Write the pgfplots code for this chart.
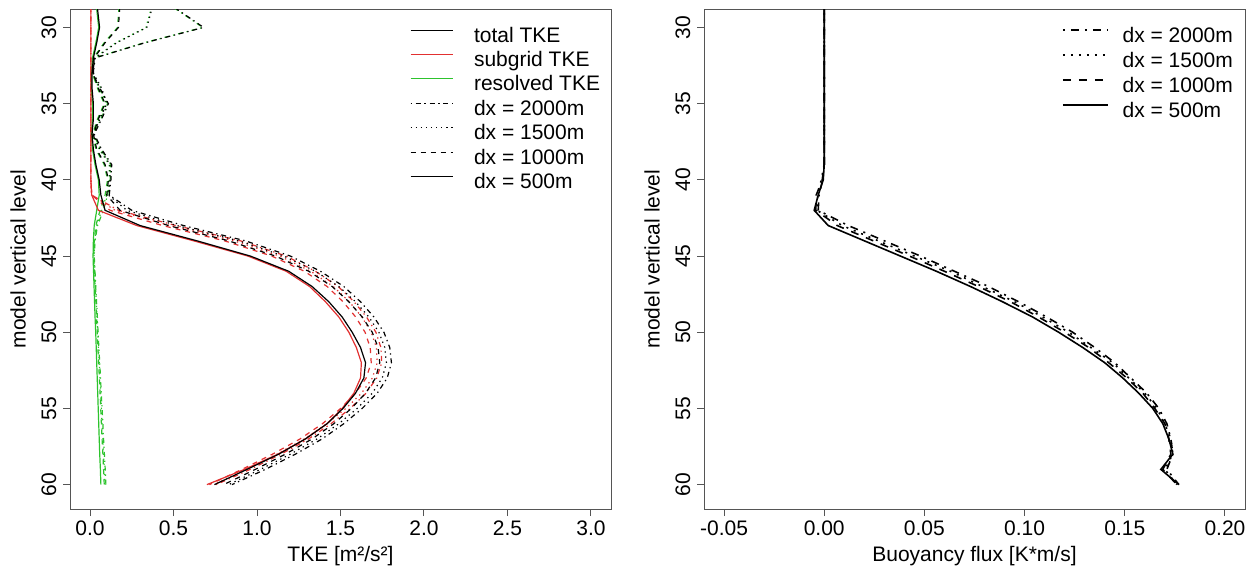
\documentclass[border=0pt]{standalone}
\usepackage{fontspec}
\setmainfont{Liberation Sans}
\usepackage{pgfplots}
\usepackage{pgfplotstable}
\pgfplotsset{compat=1.18}

\definecolor{subred}{RGB}{226,48,48}
\definecolor{resgreen}{RGB}{45,195,45}
\definecolor{boxgrey}{RGB}{85,85,85}

% TKE per model level: t = total, s = subgrid, r = resolved
\pgfplotstableread{
L  t500  s500  r500  t1000 s1000 r1000 t1500 s1500 r1500 t2000 s2000 r2000
28 0.037 0.005 0.032 0.180 0.005 0.175 0.390 0.005 0.385 0.413 0.005 0.408
29 0.047 0.005 0.042 0.176 0.005 0.171 0.365 0.005 0.360 0.547 0.005 0.542
30 0.057 0.005 0.052 0.170 0.005 0.165 0.340 0.005 0.335 0.680 0.005 0.675
31 0.040 0.005 0.035 0.090 0.005 0.085 0.160 0.005 0.155 0.330 0.005 0.325
32 0.020 0.005 0.015 0.025 0.005 0.020 0.030 0.005 0.025 0.030 0.005 0.025
33 0.012 0.005 0.007 0.020 0.005 0.015 0.020 0.005 0.015 0.015 0.005 0.010
34 0.012 0.005 0.007 0.050 0.005 0.045 0.070 0.005 0.065 0.060 0.005 0.055
35 0.020 0.005 0.015 0.090 0.005 0.085 0.100 0.005 0.095 0.110 0.005 0.105
36 0.020 0.005 0.015 0.050 0.005 0.045 0.060 0.005 0.055 0.070 0.005 0.065
37 0.012 0.005 0.007 0.020 0.005 0.015 0.020 0.005 0.015 0.025 0.005 0.020
38 0.020 0.005 0.015 0.040 0.005 0.035 0.060 0.005 0.055 0.070 0.005 0.065
39 0.035 0.005 0.030 0.090 0.005 0.085 0.120 0.005 0.115 0.130 0.005 0.125
40 0.055 0.005 0.050 0.110 0.005 0.105 0.120 0.005 0.115 0.125 0.005 0.120
41 0.065 0.010 0.055 0.100 0.010 0.090 0.110 0.010 0.100 0.115 0.010 0.105
42 0.090 0.050 0.040 0.180 0.120 0.060 0.220 0.150 0.070 0.250 0.170 0.080
43 0.300 0.280 0.025 0.470 0.435 0.035 0.520 0.480 0.040 0.560 0.515 0.045
44 0.640 0.620 0.020 0.830 0.805 0.025 0.890 0.862 0.028 0.930 0.900 0.030
45 0.960 0.945 0.018 1.110 1.088 0.022 1.160 1.136 0.024 1.200 1.175 0.025
46 1.190 1.175 0.021 1.310 1.284 0.026 1.350 1.322 0.028 1.380 1.350 0.030
47 1.330 1.315 0.024 1.450 1.420 0.030 1.490 1.457 0.033 1.520 1.486 0.034
48 1.430 1.410 0.027 1.550 1.515 0.035 1.590 1.553 0.037 1.620 1.581 0.039
49 1.510 1.490 0.030 1.630 1.591 0.039 1.670 1.628 0.042 1.700 1.656 0.044
50 1.570 1.550 0.034 1.690 1.647 0.043 1.730 1.684 0.046 1.760 1.712 0.048
51 1.620 1.595 0.037 1.725 1.678 0.047 1.765 1.715 0.050 1.795 1.742 0.053
52 1.650 1.625 0.040 1.735 1.684 0.051 1.775 1.720 0.055 1.805 1.747 0.058
53 1.640 1.620 0.043 1.710 1.654 0.056 1.750 1.691 0.059 1.780 1.717 0.063
54 1.590 1.580 0.046 1.650 1.590 0.060 1.690 1.626 0.064 1.720 1.653 0.067
55 1.515 1.510 0.049 1.565 1.501 0.064 1.600 1.532 0.068 1.630 1.558 0.072
56 1.420 1.420 0.052 1.460 1.392 0.068 1.490 1.418 0.072 1.520 1.443 0.077
57 1.290 1.290 0.055 1.330 1.258 0.072 1.360 1.283 0.077 1.390 1.309 0.081
58 1.130 1.125 0.058 1.170 1.093 0.077 1.200 1.119 0.081 1.230 1.144 0.086
59 0.940 0.925 0.062 0.990 0.909 0.081 1.020 0.934 0.086 1.050 0.959 0.091
60 0.745 0.700 0.065 0.800 0.715 0.085 0.830 0.740 0.090 0.850 0.755 0.095
}\tke

% buoyancy flux per model level
\pgfplotstableread{
L  b500    b1000   b1500   b2000
28 0.0000  0.0000  0.0000  0.0000
30 0.0000  0.0000  0.0000  0.0000
35 0.0000  0.0000  0.0000  0.0000
39 0.0000  0.0000  0.0000  0.0000
40 -0.0005 -0.0010 -0.0015 -0.0008
41 -0.0030 -0.0040 -0.0032 -0.0026
42 -0.0050 -0.0042 -0.0036 -0.0030
43 0.0020  0.0065  0.0090  0.0120
44 0.0200  0.0245  0.0270  0.0300
45 0.0380  0.0425  0.0450  0.0480
46 0.0560  0.0600  0.0630  0.0650
47 0.0730  0.0770  0.0790  0.0820
48 0.0890  0.0930  0.0950  0.0970
49 0.1040  0.1070  0.1090  0.1110
50 0.1170  0.1200  0.1220  0.1240
51 0.1290  0.1320  0.1330  0.1350
52 0.1400  0.1420  0.1440  0.1450
53 0.1490  0.1510  0.1520  0.1530
54 0.1570  0.1590  0.1600  0.1610
55 0.1640  0.1650  0.1660  0.1670
56 0.1690  0.1700  0.1700  0.1710
57 0.1720  0.1720  0.1730  0.1730
58 0.1740  0.1730  0.1740  0.1740
59 0.1680  0.1690  0.1700  0.1710
60 0.1770  0.1760  0.1760  0.1770
}\bflux

% R line types (lwd 1)
\tikzset{
  rdash/.style={dash pattern=on 2.5pt off 2.5pt},
  rdot/.style={dash pattern=on 0.65pt off 1.9pt},
  rdotdash/.style={dash pattern=on 0.65pt off 1.9pt on 2.5pt off 1.9pt},
  rdashB/.style={dash pattern=on 4pt off 4pt},
  rdotB/.style={dash pattern=on 1pt off 3pt},
  rdotdashB/.style={dash pattern=on 1pt off 3pt on 4pt off 3pt},
  rdashL/.style={dash pattern=on 5.1pt off 5.1pt},
  rdotL/.style={dash pattern=on 1.27pt off 3.8pt},
  rdotdashL/.style={dash pattern=on 1.27pt off 3.8pt on 5.1pt off 3.8pt},
}

\pgfplotsset{
  rpanel/.style={
    scale only axis, width=270.5pt, height=250pt,
    anchor=south west,
    y dir=reverse, ymin=28.79, ymax=61.6, ytick={30,35,...,60},
    axis line style={boxgrey, line width=0.5pt},
    tick style={boxgrey, line width=0.5pt},
    tick align=outside, major tick length=3.5pt, tick pos=left,
    minor tick num=0,
    /pgf/number format/assume math mode=true,
    scaled x ticks=false,
    xticklabel style={anchor=north, inner sep=0pt, text height=7.5pt, text depth=0pt},
    xticklabel shift=2.25pt,
    yticklabel style={rotate=90, anchor=south, inner sep=0pt, text height=7.5pt, text depth=0pt},
    yticklabel shift=3.25pt,
    ylabel={model vertical level},
    ylabel style={at={(axis description cs:-0.0961,0.5)}, anchor=center, rotate=0},
    xlabel style={at={(axis description cs:0.5,-0.094)}, anchor=center},
    legend cell align=left,
    legend style={draw=none, fill=none, inner sep=0pt, outer sep=0pt,
      anchor=north west, column sep=0pt,
      nodes={inner sep=0pt, text height=7.5pt, text depth=2.5pt}},
  },
}

\begin{document}
\fontsize{10.5}{12.6}\selectfont
\begin{tikzpicture}
\useasboundingbox (0,0) rectangle (625pt,285pt);

% ---- left panel: TKE ----
\begin{axis}[rpanel, at={(35pt,30.5pt)},
  xmin=-0.12, xmax=3.12, xtick={0,0.5,...,3},
  xticklabel style={/pgf/number format/fixed, /pgf/number format/fixed zerofill, /pgf/number format/precision=1},
  xlabel={TKE [m²/s²]},
  legend style={at={(axis description cs:0.6285,0.964)}, row sep=2.2pt},
  legend image code/.code={\draw[#1] (0pt,3.5pt) -- (21pt,3.5pt); \path (31.5pt,3.5pt);},
]
\addlegendimage{black, line width=0.5pt}
\addlegendentry{total TKE}
\addlegendimage{subred, line width=0.5pt}
\addlegendentry{subgrid TKE}
\addlegendimage{resgreen, line width=0.5pt}
\addlegendentry{resolved TKE}
\addlegendimage{black, line width=0.5pt, rdotdash}
\addlegendentry{dx = 2000m}
\addlegendimage{black, line width=0.5pt, rdot}
\addlegendentry{dx = 1500m}
\addlegendimage{black, line width=0.5pt, rdash}
\addlegendentry{dx = 1000m}
\addlegendimage{black, line width=0.5pt}
\addlegendentry{dx = 500m}

% resolved
\addplot[forget plot, resgreen, line width=0.6pt, rdotdash] table[x=r2000, y=L] {\tke};
\addplot[forget plot, resgreen, line width=0.6pt, rdot] table[x=r1500, y=L] {\tke};
\addplot[forget plot, resgreen, line width=0.6pt, rdash] table[x=r1000, y=L] {\tke};
\addplot[forget plot, resgreen, line width=0.6pt] table[x=r500, y=L] {\tke};
% subgrid
\addplot[forget plot, subred, line width=0.6pt, rdotdash] table[x=s2000, y=L] {\tke};
\addplot[forget plot, subred, line width=0.6pt, rdot] table[x=s1500, y=L] {\tke};
\addplot[forget plot, subred, line width=0.6pt, rdash] table[x=s1000, y=L] {\tke};
\addplot[forget plot, subred, line width=0.6pt] table[x=s500, y=L] {\tke};
% total
\addplot[forget plot, black, line width=0.6pt, rdotdash] table[x=t2000, y=L] {\tke};
\addplot[forget plot, black, line width=0.6pt, rdot] table[x=t1500, y=L] {\tke};
\addplot[forget plot, black, line width=0.6pt, rdash] table[x=t1000, y=L] {\tke};
\addplot[forget plot, black, line width=0.6pt] table[x=t500, y=L] {\tke};
\end{axis}

% ---- right panel: buoyancy flux ----
\begin{axis}[rpanel, at={(352pt,30.5pt)},
  xmin=-0.06, xmax=0.21, xtick={-0.05,0,0.05,0.1,0.15,0.2},
  xticklabel style={/pgf/number format/fixed, /pgf/number format/fixed zerofill, /pgf/number format/precision=2},
  xlabel={Buoyancy flux [K*m/s]},
  legend style={at={(axis description cs:0.6617,0.964)}, row sep=2.5pt},
  legend image code/.code={\draw[#1] (0pt,3.5pt) -- (22.5pt,3.5pt); \path (29.5pt,3.5pt);},
]
\addplot[black, line width=0.8pt, rdotdashB] table[x=b2000, y=L] {\bflux};
\addplot[black, line width=0.8pt, rdotB] table[x=b1500, y=L] {\bflux};
\addplot[black, line width=0.8pt, rdashB] table[x=b1000, y=L] {\bflux};
\addplot[black, line width=0.8pt] table[x=b500, y=L] {\bflux};
\legend{}
\addlegendimage{black, line width=1.1pt, rdotdashL}
\addlegendentry{dx = 2000m}
\addlegendimage{black, line width=1.1pt, rdotL}
\addlegendentry{dx = 1500m}
\addlegendimage{black, line width=1.1pt, rdashL}
\addlegendentry{dx = 1000m}
\addlegendimage{black, line width=1.1pt}
\addlegendentry{dx = 500m}
\end{axis}
\end{tikzpicture}
\end{document}
